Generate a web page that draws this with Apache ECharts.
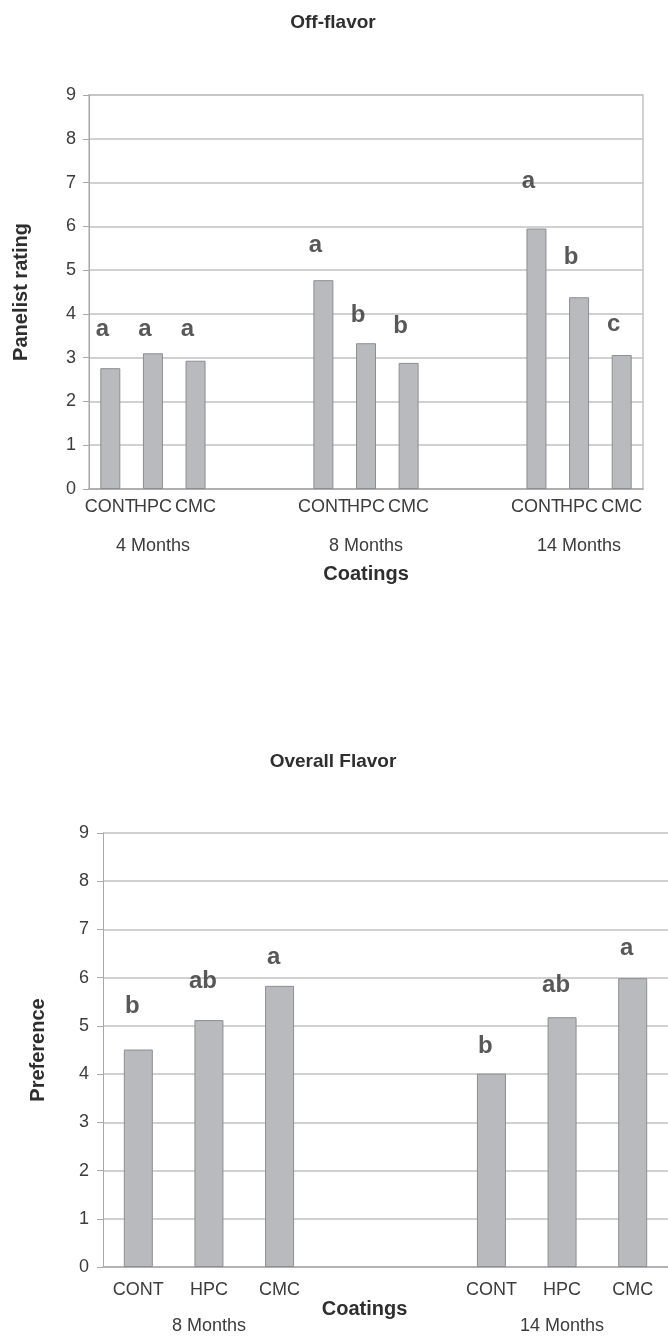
<!DOCTYPE html>
<html>
<head>
<meta charset="utf-8">
<script src="https://cdn.jsdelivr.net/npm/echarts@6/dist/echarts.min.js"></script>
<style>
html,body{margin:0;padding:0;background:#fff;}
#chart{width:668px;height:1337px;}
</style>
</head>
<body>
<div id="chart"></div>
<script>
// ---- data ----
const coatings = ['CONT', 'HPC', 'CMC'];
const offMonths = ['4 Months', '8 Months', '14 Months'];
const offValues = [[2.76, 3.10, 2.93], [4.77, 3.33, 2.88], [5.95, 4.38, 3.06]];
const offLetters = [['a', 'a', 'a'], ['a', 'b', 'b'], ['a', 'b', 'c']];
const offLetterHeights = [[3.65, 3.65, 3.65], [5.56, 3.97, 3.72], [7.03, 5.29, 3.76]];

const flavMonths = ['8 Months', '14 Months'];
const flavValues = [[4.51, 5.12, 5.83], [4.01, 5.18, 5.99]];
const flavLetters = [['b', 'ab', 'a'], ['b', 'ab', 'a']];
const flavLetterHeights = [[5.41, 5.92, 6.42], [4.57, 5.85, 6.61]];

const yMin = 0, yMax = 9, yStep = 1;
const offTitle = 'Off-flavor', flavTitle = 'Overall Flavor';
const offYName = 'Panelist rating', flavYName = 'Preference';
const xName = 'Coatings';

// ---- helpers: lay groups into slots with two empty slots between groups ----
function slots(nGroups, fn) {
  const out = [];
  for (let g = 0; g < nGroups; g++) {
    if (g > 0) { out.push(fn(null, null)); out.push(fn(null, null)); }
    for (let i = 0; i < coatings.length; i++) out.push(fn(g, i));
  }
  return out;
}
const offCats = slots(offMonths.length, (g, i) => g === null ? '' : coatings[i]);
const offGroupCats = slots(offMonths.length, (g, i) => (g !== null && i === 1) ? offMonths[g] : '');
const offBars = slots(offMonths.length, (g, i) => g === null ? null : offValues[g][i]);
const offLetterPts = slots(offMonths.length, (g, i) => g === null ? null : {value: offLetterHeights[g][i], name: offLetters[g][i]});

const flavCats = slots(flavMonths.length, (g, i) => g === null ? '' : coatings[i]);
const flavGroupCats = slots(flavMonths.length, (g, i) => (g !== null && i === 1) ? flavMonths[g] : '');
const flavBars = slots(flavMonths.length, (g, i) => g === null ? null : flavValues[g][i]);
const flavLetterPts = slots(flavMonths.length, (g, i) => g === null ? null : {value: flavLetterHeights[g][i], name: flavLetters[g][i]});

// ---- styles ----
const FONT = 'Liberation Sans, Arial, sans-serif';
const gridColor = '#c2c2c2';
const axisColor = '#a8a8a8';
const tickText = '#3c3c3c';
const boldText = '#2e2e2e';
const barStyle = {color: '#b9babe', borderColor: '#8d8e92', borderWidth: 1};

function yAxis(gridIndex, name, gap, margin) {
  return {
    type: 'value', gridIndex, min: yMin, max: yMax, interval: yStep,
    name, nameLocation: 'middle', nameGap: gap,
    nameTextStyle: {fontFamily: FONT, fontWeight: 'bold', fontSize: 20, color: boldText},
    axisLine: {show: true, lineStyle: {color: axisColor, width: 1}},
    axisTick: {show: true, inside: false, length: 6, lineStyle: {color: axisColor}},
    axisLabel: {fontFamily: FONT, fontSize: 18, color: tickText, margin},
    splitLine: {show: true, lineStyle: {color: gridColor, width: 1.5}}
  };
}
function xAxis(gridIndex, data, margin, name, gap, pad) {
  const ax = {
    type: 'category', gridIndex, data, boundaryGap: true,
    axisLine: {show: true, lineStyle: {color: axisColor, width: 1.5}},
    axisTick: {show: false},
    axisLabel: {interval: 0, hideOverlap: false, fontFamily: FONT, fontSize: 18, color: tickText, margin},
    splitLine: {show: false}
  };
  if (name) {
    ax.name = name; ax.nameLocation = 'middle'; ax.nameGap = gap;
    ax.nameTextStyle = {fontFamily: FONT, fontWeight: 'bold', fontSize: 20, color: boldText, padding: pad};
  }
  return ax;
}
function groupAxis(gridIndex, data, margin) {
  return {
    type: 'category', gridIndex, data, boundaryGap: true, position: 'bottom',
    axisLine: {show: false}, axisTick: {show: false}, splitLine: {show: false},
    axisLabel: {interval: 0, hideOverlap: false, fontFamily: FONT, fontSize: 18, color: tickText, margin}
  };
}
function letterSeries(xi, yi, data, dx) {
  return {
    type: 'scatter', xAxisIndex: xi, yAxisIndex: yi, data, symbolSize: 0, silent: true,
    label: {show: true, position: 'inside', offset: [dx, 0], formatter: p => p.name,
      fontFamily: FONT, fontWeight: 'bold', fontSize: 24, color: boldText}
  };
}

const chart = echarts.init(document.getElementById('chart'), null, {renderer: 'canvas'});
chart.setOption({
  animation: false,
  backgroundColor: '#ffffff',
  graphic: [
    {type: 'text', x: 333, y: 23, style: {text: offTitle, font: 'bold 19px ' + FONT, fill: boldText, textAlign: 'center', textVerticalAlign: 'middle'}},
    {type: 'text', x: 333, y: 762, style: {text: flavTitle, font: 'bold 19px ' + FONT, fill: boldText, textAlign: 'center', textVerticalAlign: 'middle'}}
  ],
  grid: [
    {left: 89, right: 25, top: 95, height: 394, show: true, borderColor: gridColor, borderWidth: 1.5, backgroundColor: 'transparent'},
    {left: 103, right: -3, top: 833, height: 434, show: false}
  ],
  xAxis: [
    xAxis(0, offCats, 9, xName, 75, [0, 0, 0, 0]),
    groupAxis(0, offGroupCats, 48),
    xAxis(1, flavCats, 14, xName, 30, [0, 42, 0, 0]),
    groupAxis(1, flavGroupCats, 50)
  ],
  yAxis: [
    yAxis(0, offYName, 58, 13),
    yAxis(1, flavYName, 55, 14)
  ],
  series: [
    {type: 'bar', xAxisIndex: 0, yAxisIndex: 0, data: offBars, barWidth: 20, itemStyle: barStyle, silent: true},
    letterSeries(0, 0, offLetterPts, -8),
    {type: 'bar', xAxisIndex: 2, yAxisIndex: 1, data: flavBars, barWidth: 29, itemStyle: barStyle, silent: true},
    letterSeries(2, 1, flavLetterPts, -6)
  ]
});
</script>
</body>
</html>
